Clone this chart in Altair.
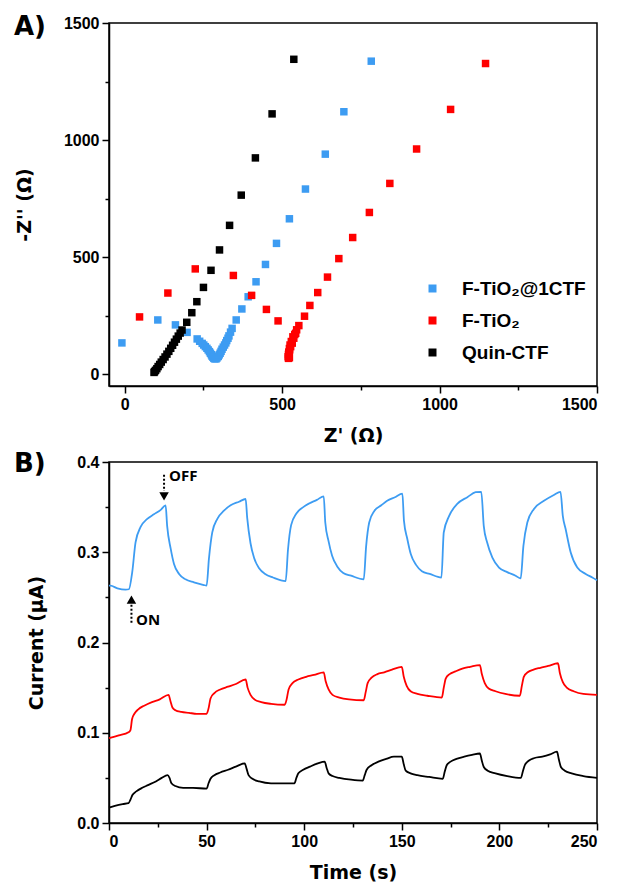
import altair as alt
import pandas as pd

# ---------------- Panel A: Nyquist plot ----------------
series_names = ["F-TiO\u2082@1CTF", "F-TiO\u2082", "Quin-CTF"]
series_colors = ["#3D9CF2", "#FF0000", "#000000"]

blue_zr = [-9, 105, 161, 198, 230, 238, 246, 251, 256, 261, 265, 269, 272, 275, 277, 280, 283, 286,
           290, 293, 297, 300, 303, 306, 309, 313, 317, 321, 324, 328, 331, 336, 341, 354, 372, 392,
           417, 447, 482, 523, 574, 637, 696, 783]
blue_zi = [134, 232, 211, 179, 151, 141, 132, 125, 118, 111, 104, 97, 90, 84, 78, 73, 68, 66,
           66, 70, 76, 83, 90, 98, 107, 116, 125, 134, 144, 154, 164, 180, 196, 232, 279, 331,
           395, 469, 559, 664, 791, 940, 1121, 1337]

red_zr = [47, 137, 224, 345, 403, 450, 487, 520, 523, 519, 521, 520, 522, 521, 524, 523, 527, 525,
          532, 529, 537, 534, 543, 540, 546, 553, 571, 588, 613, 644, 680, 724, 777, 842, 927, 1035, 1146]
red_zi = [245, 347, 450, 422, 337, 277, 228, 68, 71, 75, 80, 85, 90, 95, 104, 110, 118, 125,
          133, 140, 154, 160, 175, 170, 190, 208, 248, 294, 349, 415, 494, 584, 691, 815, 962, 1131, 1327]

black_zr = [93, 95, 98, 102, 106, 111, 116, 122, 128, 134, 140, 146, 152, 158, 164, 170, 176, 182,
            197, 213, 229, 250, 274, 301, 333, 370, 415, 468, 537]
black_zi = [8, 12, 17, 24, 33, 42, 52, 63, 74, 86, 98, 111, 124, 137, 150, 163, 176, 189,
            222, 263, 310, 371, 444, 531, 636, 765, 924, 1112, 1345]

# ---------------- Panel B: photocurrent ----------------
blue_t = [0, 0.8, 4.3, 8.5, 10.2, 11.9, 13.6, 16.2, 19.6, 23, 26.5, 29,
          29.8, 31.6, 33.3, 35.9, 39.2, 43.5, 48.6, 50,
          51.2, 52.9, 55.5, 58.9, 62.3, 66.6, 70,
          70.8, 72.5, 74.3, 77, 80, 84, 90.5,
          91.7, 93.3, 96, 99.5, 102.5, 106.5, 110,
          110.8, 112.5, 114.3, 117, 120, 124, 130.5,
          131.7, 133.3, 136, 139.5, 142.5, 146.5, 150.3,
          151.1, 152.8, 154.6, 157.3, 160.3, 164.3, 170.3,
          171.5, 174.2, 178.4, 183.6, 187.8, 190.7,
          192, 193.7, 196.4, 199.8, 204, 208.3, 210.9,
          212.3, 214.3, 217.7, 222.8, 227.9, 231.3,
          232.5, 233.9, 236.5, 239.9, 244.2, 247.6, 250]
blue_i = [0.263, 0.263, 0.260, 0.2585, 0.259, 0.278, 0.311, 0.328, 0.337, 0.342, 0.347, 0.352,
          0.329, 0.304, 0.287, 0.276, 0.270, 0.2667, 0.2637, 0.263,
          0.293, 0.322, 0.337, 0.346, 0.352, 0.356, 0.359,
          0.338, 0.310, 0.294, 0.282, 0.276, 0.272, 0.268,
          0.303, 0.330, 0.343, 0.350, 0.354, 0.358, 0.362,
          0.333, 0.312, 0.296, 0.284, 0.277, 0.274, 0.270,
          0.306, 0.333, 0.346, 0.352, 0.357, 0.361, 0.365,
          0.335, 0.315, 0.298, 0.286, 0.279, 0.276, 0.272,
          0.322, 0.340, 0.3535, 0.361, 0.3665, 0.367,
          0.329, 0.311, 0.294, 0.283, 0.278, 0.274, 0.271,
          0.307, 0.333, 0.348, 0.357, 0.3635, 0.367,
          0.340, 0.326, 0.300, 0.283, 0.276, 0.272, 0.269]

red_t = [0, 5, 10, 11, 11.8, 13, 15, 18, 22, 26, 30.5,
         31.5, 32.5, 34, 37, 41, 45, 50,
         51, 52, 54, 57, 61, 65, 70,
         71, 72.5, 74.5, 78, 83, 90,
         91, 92, 94, 97, 101, 105, 110,
         111, 112.5, 114.5, 118, 123, 130.5,
         131.5, 132.5, 134.5, 137.5, 141, 145, 150,
         151, 152.5, 154.5, 158, 163, 170.5,
         171.5, 172.5, 174.5, 177.5, 181, 185, 190,
         191, 192.5, 194.5, 198, 203, 210.5,
         211.5, 212.5, 214.5, 217.5, 221, 225, 230,
         231, 232.5, 234.5, 238, 243, 250]
red_i = [0.094, 0.097, 0.1005, 0.103, 0.115, 0.121, 0.126, 0.130, 0.134, 0.137, 0.142,
         0.135, 0.128, 0.125, 0.123, 0.122, 0.121, 0.121,
         0.127, 0.138, 0.144, 0.148, 0.151, 0.154, 0.159,
         0.150, 0.142, 0.137, 0.134, 0.132, 0.131,
         0.137, 0.148, 0.155, 0.159, 0.162, 0.164, 0.167,
         0.157, 0.148, 0.142, 0.139, 0.137, 0.136,
         0.145, 0.155, 0.161, 0.165, 0.167, 0.170, 0.173,
         0.162, 0.152, 0.146, 0.143, 0.141, 0.139,
         0.150, 0.160, 0.165, 0.168, 0.171, 0.173, 0.175,
         0.165, 0.155, 0.149, 0.146, 0.143, 0.141,
         0.152, 0.162, 0.167, 0.170, 0.172, 0.174, 0.177,
         0.166, 0.156, 0.150, 0.146, 0.143, 0.142]

black_t = [0, 3, 7, 10, 11, 12, 14, 17, 20, 24, 27, 30,
           31, 32, 34, 38, 43, 50,
           51, 52, 54, 57, 61, 65, 69.5,
           70.5, 71.5, 73.5, 77, 83, 90, 95,
           96, 97, 99.5, 103, 107, 110.5,
           111.5, 112.5, 114.5, 118, 124, 130,
           131, 132, 134.5, 138, 142, 146, 150,
           151, 152, 154.5, 158, 164, 171,
           172, 173, 175, 178, 182, 186, 190,
           191, 192, 194, 198, 204, 211,
           212, 213, 215, 218, 222, 226, 229.5,
           230.5, 231.5, 233.5, 237, 243, 250]
black_i = [0.017, 0.019, 0.021, 0.022, 0.026, 0.031, 0.035, 0.039, 0.042, 0.046, 0.050, 0.053,
           0.050, 0.044, 0.041, 0.039, 0.039, 0.038,
           0.044, 0.049, 0.053, 0.056, 0.059, 0.0625, 0.066,
           0.060, 0.053, 0.049, 0.046, 0.044, 0.044, 0.044,
           0.050, 0.055, 0.059, 0.0625, 0.066, 0.068,
           0.061, 0.055, 0.052, 0.050, 0.048, 0.047,
           0.053, 0.059, 0.064, 0.068, 0.071, 0.0735, 0.0735,
           0.065, 0.058, 0.055, 0.053, 0.051, 0.049,
           0.057, 0.064, 0.068, 0.071, 0.0735, 0.0755, 0.077,
           0.069, 0.062, 0.058, 0.055, 0.052, 0.050,
           0.057, 0.064, 0.069, 0.072, 0.0735, 0.076, 0.079,
           0.070, 0.062, 0.058, 0.055, 0.052, 0.050]

# annotation arrows (data coordinates)
arrow_labels = ["OFF", "ON"]
arrow_t = [28.2, 11.5]
arrow_line_from = [0.386, 0.222]
arrow_line_to = [0.368, 0.243]
arrow_head_y = [0.362, 0.2475]
arrow_head_shape = ["triangle-down", "triangle-up"]
arrow_text_t = [30.8, 13.8]
arrow_text_y = [0.384, 0.225]

# ---------------- build tables ----------------
dfA = pd.concat([
    pd.DataFrame({"zr": blue_zr, "zi": blue_zi, "series": series_names[0]}),
    pd.DataFrame({"zr": red_zr, "zi": red_zi, "series": series_names[1]}),
    pd.DataFrame({"zr": black_zr, "zi": black_zi, "series": series_names[2]}),
], ignore_index=True)

dfB = pd.concat([
    pd.DataFrame({"t": blue_t, "i": blue_i, "series": series_names[0]}),
    pd.DataFrame({"t": red_t, "i": red_i, "series": series_names[1]}),
    pd.DataFrame({"t": black_t, "i": black_i, "series": series_names[2]}),
], ignore_index=True)

dfArrow = pd.DataFrame({
    "label": arrow_labels, "t": arrow_t, "y1": arrow_line_from, "y2": arrow_line_to,
    "hy": arrow_head_y, "shape": arrow_head_shape, "tt": arrow_text_t, "ty": arrow_text_y,
})

color_scale = alt.Scale(domain=series_names, range=series_colors)

TICK_FONT = "Liberation Sans"
TITLE_FONT = "DejaVu Sans"

def tick_size(expr):
    return {"condition": {"test": expr, "value": 7}, "value": 4}

# Panel A
xA = alt.X("zr:Q", scale=alt.Scale(domain=[-50, 1500], nice=False, zero=False),
           axis=alt.Axis(values=[0, 250, 500, 750, 1000, 1250, 1500],
                         labelExpr="datum.value % 500 === 0 ? datum.label : ''",
                         tickSize=tick_size("datum.value % 500 === 0"),
                         title="Z' (\u03a9)", titlePadding=14, format="d"))
yA = alt.Y("zi:Q", scale=alt.Scale(domain=[-50, 1500], nice=False, zero=False),
           axis=alt.Axis(values=[0, 250, 500, 750, 1000, 1250, 1500],
                         labelExpr="datum.value % 500 === 0 ? datum.label : ''",
                         tickSize=tick_size("datum.value % 500 === 0"),
                         title="-Z'' (\u03a9)", titlePadding=29, format="d"))

pointsA = alt.Chart(dfA).mark_square(size=56, opacity=1, filled=True).encode(
    x=xA, y=yA,
    color=alt.Color("series:N", scale=color_scale,
                    legend=alt.Legend(orient="none", legendX=314, legendY=256, title=None,
                                      symbolType="square", symbolSize=64, symbolStrokeWidth=0,
                                      labelFont=TICK_FONT, labelFontSize=19, labelFontWeight="bold",
                                      labelColor="black", rowPadding=12, labelOffset=20, padding=0)),
)

labelA = alt.Chart(pd.DataFrame({"txt": ["A)"]})).mark_text(
    align="left", baseline="middle", font=TITLE_FONT, fontSize=26, fontWeight="bold", color="black"
).encode(x=alt.value(-95), y=alt.value(4), text="txt:N")

panelA = alt.layer(pointsA, labelA).properties(width=488, height=363)

# Panel B
xB = alt.X("t:Q", scale=alt.Scale(domain=[0, 250], nice=False),
           axis=alt.Axis(values=list(range(0, 251, 25)),
                         labelExpr="datum.value % 50 === 0 ? datum.label : ''",
                         tickSize=tick_size("datum.value % 50 === 0"),
                         title="Time (s)", titlePadding=14, format="d"))
yB = alt.Y("i:Q", scale=alt.Scale(domain=[0, 0.4], nice=False),
           axis=alt.Axis(values=[0, 0.05, 0.1, 0.15, 0.2, 0.25, 0.3, 0.35, 0.4],
                         labelExpr="round(datum.value * 100) % 10 === 0 ? format(datum.value, '.1f') : ''",
                         tickSize=tick_size("round(datum.value * 100) % 10 === 0"),
                         title="Current (\u00b5A)", titlePadding=30))

linesB = alt.Chart(dfB).mark_line(strokeWidth=1.8, interpolate="monotone").encode(
    x=xB, y=yB,
    color=alt.Color("series:N", scale=color_scale, legend=None),
    order="t:Q",
)

arrowLines = alt.Chart(dfArrow).mark_rule(strokeDash=[2, 2], strokeWidth=2, color="black").encode(
    x="t:Q", y="y1:Q", y2="y2:Q")
arrowHeads = alt.Chart(dfArrow).mark_point(filled=True, size=90, color="black", opacity=1).encode(
    x="t:Q", y="hy:Q", shape=alt.Shape("shape:N", scale=None))
arrowText = alt.Chart(dfArrow).mark_text(align="left", baseline="middle", font="Open Sans",
                                         fontSize=15, fontWeight="bold", color="black").encode(
    x="tt:Q", y="ty:Q", text="label:N")

labelB = alt.Chart(pd.DataFrame({"txt": ["B)"]})).mark_text(
    align="left", baseline="middle", font=TITLE_FONT, fontSize=26, fontWeight="bold", color="black"
).encode(x=alt.value(-95), y=alt.value(2), text="txt:N")

panelB = alt.layer(linesB, arrowLines, arrowHeads, arrowText, labelB).properties(width=488, height=361)

chart = alt.vconcat(panelA, panelB, spacing=4).configure_view(
    stroke="black", strokeWidth=1.5
).configure_axis(
    grid=False, domainColor="black", domainWidth=1.5, tickColor="black", tickWidth=1.5,
    labelFont=TICK_FONT, labelFontSize=16, labelFontWeight="bold", labelColor="black", labelPadding=3,
    titleFont=TITLE_FONT, titleFontSize=19, titleFontWeight="bold", titleColor="black"
).properties(background="white")

chart.save("out.html", embed_options={"renderer": "svg", "actions": False})
